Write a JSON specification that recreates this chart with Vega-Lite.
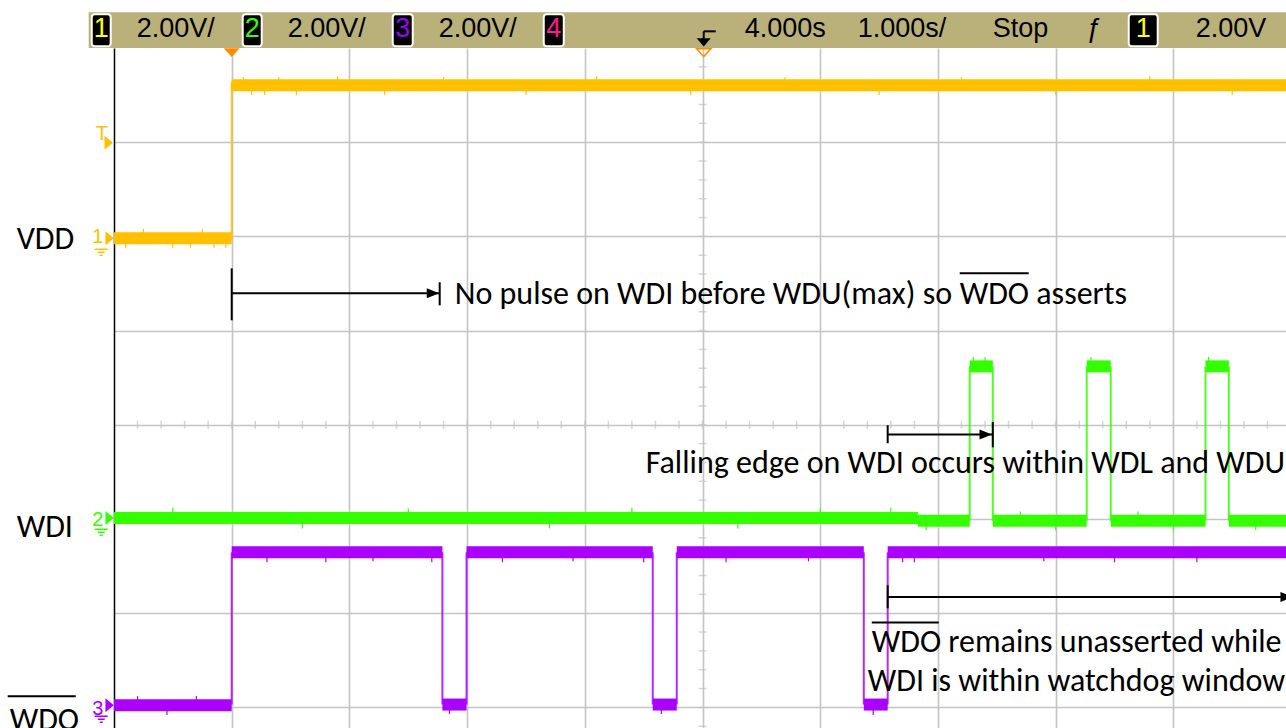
{
  "$schema": "https://vega.github.io/schema/vega-lite/v6.json",
  "width": 1172,
  "height": 680,
  "autosize": {"type": "none"},
  "padding": {"left": 114, "top": 48, "right": 0, "bottom": 0},
  "background": "white",
  "config": {"view": {"stroke": null}},
  "datasets": {
    "header": [{"x1": -1.215, "x2": 9.2, "y1": 4.0, "y2": 4.379}],
    "flat": [
      {"ch": "VDD", "t0": -1, "t1": 0, "v": 1.98},
      {"ch": "VDD", "t0": 0, "t1": 9.2, "v": 3.604},
      {"ch": "WDI", "t0": -1, "t1": 5.83, "v": -0.99},
      {"ch": "WDI", "t0": 5.83, "t1": 6.27, "v": -1.02},
      {"ch": "WDI", "t0": 6.27, "t1": 6.466, "v": 0.62},
      {"ch": "WDI", "t0": 6.466, "t1": 7.264, "v": -1.02},
      {"ch": "WDI", "t0": 7.264, "t1": 7.468, "v": 0.62},
      {"ch": "WDI", "t0": 7.468, "t1": 8.273, "v": -1.02},
      {"ch": "WDI", "t0": 8.273, "t1": 8.471, "v": 0.62},
      {"ch": "WDI", "t0": 8.471, "t1": 9.2, "v": -1.02},
      {"ch": "WDO", "t0": -1, "t1": 0, "v": -2.978},
      {"ch": "WDO", "t0": 0, "t1": 1.79, "v": -1.354},
      {"ch": "WDO", "t0": 1.79, "t1": 1.995, "v": -2.97},
      {"ch": "WDO", "t0": 1.995, "t1": 3.577, "v": -1.354},
      {"ch": "WDO", "t0": 3.577, "t1": 3.781, "v": -2.97},
      {"ch": "WDO", "t0": 3.781, "t1": 5.37, "v": -1.354},
      {"ch": "WDO", "t0": 5.37, "t1": 5.573, "v": -2.97},
      {"ch": "WDO", "t0": 5.573, "t1": 9.2, "v": -1.354}
    ],
    "edges": [
      {"ch": "VDD", "t": 0, "v0": 1.95, "v1": 3.64},
      {"ch": "WDI", "t": 6.27, "v0": -1.02, "v1": 0.62},
      {"ch": "WDI", "t": 6.466, "v0": -1.02, "v1": 0.62},
      {"ch": "WDI", "t": 7.264, "v0": -1.02, "v1": 0.62},
      {"ch": "WDI", "t": 7.468, "v0": -1.02, "v1": 0.62},
      {"ch": "WDI", "t": 8.273, "v0": -1.02, "v1": 0.62},
      {"ch": "WDI", "t": 8.471, "v0": -1.02, "v1": 0.62},
      {"ch": "WDO", "t": 0, "v0": -2.97, "v1": -1.354},
      {"ch": "WDO", "t": 1.79, "v0": -2.97, "v1": -1.354},
      {"ch": "WDO", "t": 1.995, "v0": -2.97, "v1": -1.354},
      {"ch": "WDO", "t": 3.577, "v0": -2.97, "v1": -1.354},
      {"ch": "WDO", "t": 3.781, "v0": -2.97, "v1": -1.354},
      {"ch": "WDO", "t": 5.37, "v0": -2.97, "v1": -1.354},
      {"ch": "WDO", "t": 5.573, "v0": -2.97, "v1": -1.354}
    ],
    "spikes": [
      {"ch": "VDD", "t": 0.1, "v0": 3.6, "v1": 3.69}, {"ch": "VDD", "t": 0.17, "v0": 3.6, "v1": 3.5},
      {"ch": "VDD", "t": 0.28, "v0": 3.6, "v1": 3.5}, {"ch": "VDD", "t": 0.4, "v0": 3.6, "v1": 3.69},
      {"ch": "VDD", "t": 0.55, "v0": 3.6, "v1": 3.5}, {"ch": "VDD", "t": 0.9, "v0": 3.6, "v1": 3.7},
      {"ch": "VDD", "t": 1.3, "v0": 3.6, "v1": 3.5}, {"ch": "VDD", "t": 1.8, "v0": 3.6, "v1": 3.69},
      {"ch": "VDD", "t": 2.5, "v0": 3.6, "v1": 3.5}, {"ch": "VDD", "t": 3.1, "v0": 3.6, "v1": 3.7},
      {"ch": "VDD", "t": 3.9, "v0": 3.6, "v1": 3.5}, {"ch": "VDD", "t": 4.7, "v0": 3.6, "v1": 3.69},
      {"ch": "VDD", "t": 5.5, "v0": 3.6, "v1": 3.5}, {"ch": "VDD", "t": 6.2, "v0": 3.6, "v1": 3.69},
      {"ch": "VDD", "t": 7.0, "v0": 3.6, "v1": 3.5}, {"ch": "VDD", "t": 7.8, "v0": 3.6, "v1": 3.7},
      {"ch": "VDD", "t": 8.5, "v0": 3.6, "v1": 3.5},
      {"ch": "VDD", "t": -0.9, "v0": 1.98, "v1": 1.88}, {"ch": "VDD", "t": -0.75, "v0": 1.98, "v1": 2.08},
      {"ch": "VDD", "t": -0.5, "v0": 1.98, "v1": 1.88}, {"ch": "VDD", "t": -0.35, "v0": 1.98, "v1": 1.88},
      {"ch": "VDD", "t": -0.25, "v0": 1.98, "v1": 2.08}, {"ch": "VDD", "t": -0.15, "v0": 1.98, "v1": 1.88},
      {"ch": "VDD", "t": -0.05, "v0": 1.98, "v1": 1.88},
      {"ch": "WDI", "t": -0.5, "v0": -0.99, "v1": -0.88}, {"ch": "WDI", "t": 0.6, "v0": -0.99, "v1": -1.1},
      {"ch": "WDI", "t": 1.5, "v0": -0.99, "v1": -0.89}, {"ch": "WDI", "t": 2.7, "v0": -0.99, "v1": -1.1},
      {"ch": "WDI", "t": 3.4, "v0": -0.99, "v1": -0.88}, {"ch": "WDI", "t": 4.3, "v0": -0.99, "v1": -1.1},
      {"ch": "WDI", "t": 5.0, "v0": -0.99, "v1": -0.89}, {"ch": "WDI", "t": 5.6, "v0": -0.99, "v1": -0.88},
      {"ch": "WDI", "t": 5.9, "v0": -1.02, "v1": -1.12}, {"ch": "WDI", "t": 6.7, "v0": -1.02, "v1": -0.92},
      {"ch": "WDI", "t": 7.0, "v0": -1.02, "v1": -1.12}, {"ch": "WDI", "t": 7.7, "v0": -1.02, "v1": -0.92},
      {"ch": "WDI", "t": 8.0, "v0": -1.02, "v1": -1.12}, {"ch": "WDI", "t": 8.7, "v0": -1.02, "v1": -1.12},
      {"ch": "WDI", "t": 6.3, "v0": 0.62, "v1": 0.72}, {"ch": "WDI", "t": 6.4, "v0": 0.62, "v1": 0.72},
      {"ch": "WDI", "t": 7.3, "v0": 0.62, "v1": 0.72}, {"ch": "WDI", "t": 8.3, "v0": 0.62, "v1": 0.72},
      {"ch": "WDO", "t": 0.3, "v0": -1.354, "v1": -1.46}, {"ch": "WDO", "t": 0.8, "v0": -1.354, "v1": -1.46},
      {"ch": "WDO", "t": 1.2, "v0": -1.354, "v1": -1.45}, {"ch": "WDO", "t": 1.7, "v0": -1.354, "v1": -1.46},
      {"ch": "WDO", "t": 2.3, "v0": -1.354, "v1": -1.46}, {"ch": "WDO", "t": 2.9, "v0": -1.354, "v1": -1.45},
      {"ch": "WDO", "t": 3.5, "v0": -1.354, "v1": -1.46}, {"ch": "WDO", "t": 4.2, "v0": -1.354, "v1": -1.46},
      {"ch": "WDO", "t": 4.9, "v0": -1.354, "v1": -1.45}, {"ch": "WDO", "t": 5.7, "v0": -1.354, "v1": -1.46},
      {"ch": "WDO", "t": 5.8, "v0": -1.354, "v1": -1.46}, {"ch": "WDO", "t": 6.9, "v0": -1.354, "v1": -1.45},
      {"ch": "WDO", "t": 7.5, "v0": -1.354, "v1": -1.46}, {"ch": "WDO", "t": 8.2, "v0": -1.354, "v1": -1.46},
      {"ch": "WDO", "t": -0.8, "v0": -2.978, "v1": -2.88}, {"ch": "WDO", "t": -0.3, "v0": -2.978, "v1": -2.88},
      {"ch": "WDO", "t": -0.55, "v0": -2.978, "v1": -3.08}, {"ch": "WDO", "t": 1.85, "v0": -2.97, "v1": -3.07},
      {"ch": "WDO", "t": 3.65, "v0": -2.97, "v1": -3.07}, {"ch": "WDO", "t": 5.45, "v0": -2.97, "v1": -3.08}
    ],
    "minorX": [
      {"t": -0.8}, {"t": -0.6}, {"t": -0.4}, {"t": -0.2}, {"t": 0}, {"t": 0.2}, {"t": 0.4}, {"t": 0.6}, {"t": 0.8}, {"t": 1},
      {"t": 1.2}, {"t": 1.4}, {"t": 1.6}, {"t": 1.8}, {"t": 2}, {"t": 2.2}, {"t": 2.4}, {"t": 2.6}, {"t": 2.8}, {"t": 3},
      {"t": 3.2}, {"t": 3.4}, {"t": 3.6}, {"t": 3.8}, {"t": 4}, {"t": 4.2}, {"t": 4.4}, {"t": 4.6}, {"t": 4.8}, {"t": 5},
      {"t": 5.2}, {"t": 5.4}, {"t": 5.6}, {"t": 5.8}, {"t": 6}, {"t": 6.2}, {"t": 6.4}, {"t": 6.6}, {"t": 6.8}, {"t": 7},
      {"t": 7.2}, {"t": 7.4}, {"t": 7.6}, {"t": 7.8}, {"t": 8}, {"t": 8.2}, {"t": 8.4}, {"t": 8.6}, {"t": 8.8}
    ],
    "minorY": [
      {"v": -3.2}, {"v": -3}, {"v": -2.8}, {"v": -2.6}, {"v": -2.4}, {"v": -2.2}, {"v": -2}, {"v": -1.8}, {"v": -1.6}, {"v": -1.4},
      {"v": -1.2}, {"v": -1}, {"v": -0.8}, {"v": -0.6}, {"v": -0.4}, {"v": -0.2}, {"v": 0}, {"v": 0.2}, {"v": 0.4}, {"v": 0.6},
      {"v": 0.8}, {"v": 1}, {"v": 1.2}, {"v": 1.4}, {"v": 1.6}, {"v": 1.8}, {"v": 2}, {"v": 2.2}, {"v": 2.4}, {"v": 2.6},
      {"v": 2.8}, {"v": 3}, {"v": 3.2}, {"v": 3.4}, {"v": 3.6}, {"v": 3.8}
    ],
    "segs": [
      {"x1": 0, "x2": 0, "y1": 1.661, "y2": 1.109},
      {"x1": 0, "x2": 1.767, "y1": 1.396, "y2": 1.396},
      {"x1": 1.767, "x2": 1.767, "y1": 1.513, "y2": 1.268},
      {"x1": 5.573, "x2": 5.573, "y1": -0.005, "y2": -0.196},
      {"x1": 5.573, "x2": 6.466, "y1": -0.104, "y2": -0.104},
      {"x1": 6.466, "x2": 6.466, "y1": 0.03, "y2": -0.239},
      {"x1": 5.573, "x2": 5.573, "y1": -1.704, "y2": -1.948},
      {"x1": 5.573, "x2": 8.96, "y1": -1.828, "y2": -1.828},
      {"x1": 6.185, "x2": 6.771, "y1": 1.608, "y2": 1.608},
      {"x1": 5.438, "x2": 6.007, "y1": -2.1, "y2": -2.1},
      {"x1": -1.903, "x2": -1.325, "y1": -2.882, "y2": -2.882},
      {"x1": 4.01, "x2": 4.112, "y1": 4.177, "y2": 4.177},
      {"x1": 4.01, "x2": 4.01, "y1": 4.177, "y2": 4.085}
    ],
    "grounds": [
      {"ch": "VDD", "x1": -1.164, "x2": -1.054, "y": 1.863},
      {"ch": "VDD", "x1": -1.138, "x2": -1.079, "y": 1.831},
      {"ch": "VDD", "x1": -1.121, "x2": -1.096, "y": 1.799},
      {"ch": "WDI", "x1": -1.164, "x2": -1.054, "y": -1.109},
      {"ch": "WDI", "x1": -1.138, "x2": -1.079, "y": -1.141},
      {"ch": "WDI", "x1": -1.121, "x2": -1.096, "y": -1.173},
      {"ch": "WDO", "x1": -1.164, "x2": -1.054, "y": -3.094},
      {"ch": "WDO", "x1": -1.138, "x2": -1.079, "y": -3.126},
      {"ch": "WDO", "x1": -1.121, "x2": -1.096, "y": -3.158}
    ],
    "heads": [
      {"t": 1.71, "v": 1.396},
      {"t": 6.406, "v": -0.104},
      {"t": 8.963, "v": -1.828}
    ],
    "downIcon": [{"t": 4.01, "v": 4.06}],
    "trigFilled": [{"t": 0, "v": 3.95}],
    "trigHollow": [{"t": 4.01, "v": 3.95}],
    "chmarks": [
      {"ch": "VDD", "t": -1.045, "v": 2.994},
      {"ch": "VDD", "t": -1.037, "v": 1.98},
      {"ch": "WDI", "t": -1.037, "v": -0.99},
      {"ch": "WDO", "t": -1.037, "v": -2.978}
    ],
    "chnums": [
      {"ch": "VDD", "t": -1.185, "v": 1.927, "text": "1"},
      {"ch": "WDI", "t": -1.185, "v": -1.077, "text": "2"},
      {"ch": "WDO", "t": -1.185, "v": -3.084, "text": "3"},
      {"ch": "VDD", "t": -1.155, "v": 3.02, "text": "T"}
    ],
    "ann": [
      {"t": 1.895, "v": 1.279, "text": "No pulse on WDI before WDU(max) so"},
      {"t": 6.185, "v": 1.279, "text": "WDO asserts"},
      {"t": 3.517, "v": -0.515, "text": "Falling edge on WDI occurs within WDL and WDU"},
      {"t": 5.438, "v": -2.415, "text": "WDO remains unasserted while"},
      {"t": 5.404, "v": -2.83, "text": "WDI is within watchdog window"},
      {"t": -1.827, "v": 1.863, "text": "VDD"},
      {"t": -1.827, "v": -1.194, "text": "WDI"},
      {"t": -1.886, "v": -3.243, "text": "WDO"}
    ],
    "hdr": [
      {"t": -0.807, "v": 4.114, "text": "2.00V/"},
      {"t": 0.476, "v": 4.114, "text": "2.00V/"},
      {"t": 1.759, "v": 4.114, "text": "2.00V/"},
      {"t": 4.359, "v": 4.114, "text": "4.000s"},
      {"t": 5.319, "v": 4.114, "text": "1.000s/"},
      {"t": 6.466, "v": 4.114, "text": "Stop"},
      {"t": 7.264, "v": 4.114, "text": "ƒ"},
      {"t": 8.19, "v": 4.114, "text": "2.00V"}
    ],
    "boxes": [
      {"x1": -1.189, "x2": -1.028, "y1": 4.018, "y2": 4.358, "tc": -1.109, "v": 4.114, "num": "1"},
      {"x1": 0.0935, "x2": 0.255, "y1": 4.018, "y2": 4.358, "tc": 0.174, "v": 4.114, "num": "2"},
      {"x1": 1.368, "x2": 1.538, "y1": 4.018, "y2": 4.358, "tc": 1.453, "v": 4.114, "num": "3"},
      {"x1": 2.651, "x2": 2.821, "y1": 4.018, "y2": 4.358, "tc": 2.736, "v": 4.114, "num": "4"},
      {"x1": 7.621, "x2": 7.867, "y1": 4.018, "y2": 4.358, "tc": 7.744, "v": 4.114, "num": "1"}
    ]
  },
  "resolve": {"scale": {"color": "independent"}},
  "layer": [
    {
      "data": {"name": "header"},
      "mark": {"type": "rect", "color": "#BAB07A"},
      "encoding": {
        "x": {"field": "x1", "type": "quantitative", "scale": {"domain": [-1, 8.957], "nice": false, "zero": false},
          "axis": {"values": [0, 1, 2, 3, 4, 5, 6, 7, 8], "grid": true, "gridColor": "#c4c4c4", "gridWidth": 1.6, "domain": false, "ticks": false, "labels": false, "title": null}},
        "x2": {"field": "x2"},
        "y": {"field": "y1", "type": "quantitative", "scale": {"domain": [-3.219, 4], "nice": false, "zero": false},
          "axis": {"values": [-3, -2, -1, 0, 1, 2, 3], "grid": true, "gridColor": "#c4c4c4", "gridWidth": 1.6, "domain": true, "domainColor": "#000000", "domainWidth": 1.5, "ticks": false, "labels": false, "title": null}},
        "y2": {"field": "y2"}
      }
    },
    {
      "data": {"name": "minorX"},
      "mark": {"type": "tick", "orient": "vertical", "size": 8, "thickness": 1.5, "color": "#c4c4c4"},
      "encoding": {
        "x": {"field": "t", "type": "quantitative", "scale": {"domain": [-1, 8.957], "nice": false, "zero": false}},
        "y": {"datum": 0, "type": "quantitative", "scale": {"domain": [-3.219, 4], "nice": false, "zero": false}}
      }
    },
    {
      "data": {"name": "minorY"},
      "mark": {"type": "tick", "orient": "horizontal", "size": 8, "thickness": 1.5, "color": "#c4c4c4"},
      "encoding": {
        "x": {"datum": 4, "type": "quantitative", "scale": {"domain": [-1, 8.957], "nice": false, "zero": false}},
        "y": {"field": "v", "type": "quantitative", "scale": {"domain": [-3.219, 4], "nice": false, "zero": false}}
      }
    },
    {
      "data": {"name": "edges"},
      "mark": {"type": "rule", "strokeWidth": 2, "opacity": 0.85, "clip": true},
      "encoding": {
        "x": {"field": "t", "type": "quantitative", "scale": {"domain": [-1, 8.957], "nice": false, "zero": false}},
        "y": {"field": "v0", "type": "quantitative", "scale": {"domain": [-3.219, 4], "nice": false, "zero": false}},
        "y2": {"field": "v1"},
        "color": {"field": "ch", "type": "nominal", "scale": {"domain": ["VDD", "WDI", "WDO"], "range": ["#FFC000", "#33FF00", "#AA00FF"]}, "legend": null}
      }
    },
    {
      "data": {"name": "spikes"},
      "mark": {"type": "rule", "strokeWidth": 1.2, "clip": true},
      "encoding": {
        "x": {"field": "t", "type": "quantitative", "scale": {"domain": [-1, 8.957], "nice": false, "zero": false}},
        "y": {"field": "v0", "type": "quantitative", "scale": {"domain": [-3.219, 4], "nice": false, "zero": false}},
        "y2": {"field": "v1"},
        "color": {"field": "ch", "type": "nominal", "scale": {"domain": ["VDD", "WDI", "WDO"], "range": ["#FFC000", "#33FF00", "#AA00FF"]}, "legend": null}
      }
    },
    {
      "data": {"name": "flat"},
      "mark": {"type": "rule", "strokeWidth": 12, "strokeCap": "butt", "clip": true},
      "encoding": {
        "x": {"field": "t0", "type": "quantitative", "scale": {"domain": [-1, 8.957], "nice": false, "zero": false}},
        "x2": {"field": "t1"},
        "y": {"field": "v", "type": "quantitative", "scale": {"domain": [-3.219, 4], "nice": false, "zero": false}},
        "color": {"field": "ch", "type": "nominal", "scale": {"domain": ["VDD", "WDI", "WDO"], "range": ["#FFC000", "#33FF00", "#AA00FF"]}, "legend": null}
      }
    },
    {
      "data": {"name": "segs"},
      "mark": {"type": "rule", "strokeWidth": 2, "color": "#000000"},
      "encoding": {
        "x": {"field": "x1", "type": "quantitative", "scale": {"domain": [-1, 8.957], "nice": false, "zero": false}},
        "x2": {"field": "x2"},
        "y": {"field": "y1", "type": "quantitative", "scale": {"domain": [-3.219, 4], "nice": false, "zero": false}},
        "y2": {"field": "y2"}
      }
    },
    {
      "data": {"name": "grounds"},
      "mark": {"type": "rule", "strokeWidth": 1.5},
      "encoding": {
        "x": {"field": "x1", "type": "quantitative", "scale": {"domain": [-1, 8.957], "nice": false, "zero": false}},
        "x2": {"field": "x2"},
        "y": {"field": "y", "type": "quantitative", "scale": {"domain": [-3.219, 4], "nice": false, "zero": false}},
        "color": {"field": "ch", "type": "nominal", "scale": {"domain": ["VDD", "WDI", "WDO"], "range": ["#FFC000", "#33FF00", "#AA00FF"]}, "legend": null}
      }
    },
    {
      "data": {"name": "heads"},
      "mark": {"type": "point", "shape": "M-1,-0.8L1,0L-1,0.8Z", "size": 156, "filled": true, "color": "#000000", "opacity": 1},
      "encoding": {
        "x": {"field": "t", "type": "quantitative", "scale": {"domain": [-1, 8.957], "nice": false, "zero": false}},
        "y": {"field": "v", "type": "quantitative", "scale": {"domain": [-3.219, 4], "nice": false, "zero": false}}
      }
    },
    {
      "data": {"name": "downIcon"},
      "mark": {"type": "point", "shape": "M-1,-0.6L1,-0.6L0,0.6Z", "size": 196, "filled": true, "color": "#000000", "opacity": 1},
      "encoding": {
        "x": {"field": "t", "type": "quantitative", "scale": {"domain": [-1, 8.957], "nice": false, "zero": false}},
        "y": {"field": "v", "type": "quantitative", "scale": {"domain": [-3.219, 4], "nice": false, "zero": false}}
      }
    },
    {
      "data": {"name": "trigFilled"},
      "mark": {"type": "point", "shape": "M-1,-0.55L1,-0.55L0,0.55Z", "size": 256, "filled": true, "color": "#FF8C00", "opacity": 1},
      "encoding": {
        "x": {"field": "t", "type": "quantitative", "scale": {"domain": [-1, 8.957], "nice": false, "zero": false}},
        "y": {"field": "v", "type": "quantitative", "scale": {"domain": [-3.219, 4], "nice": false, "zero": false}}
      }
    },
    {
      "data": {"name": "trigHollow"},
      "mark": {"type": "point", "shape": "M-1,-0.55L1,-0.55L0,0.55Z", "size": 196, "filled": false, "stroke": "#FF8C00", "strokeWidth": 1.5, "opacity": 1},
      "encoding": {
        "x": {"field": "t", "type": "quantitative", "scale": {"domain": [-1, 8.957], "nice": false, "zero": false}},
        "y": {"field": "v", "type": "quantitative", "scale": {"domain": [-3.219, 4], "nice": false, "zero": false}}
      }
    },
    {
      "data": {"name": "chmarks"},
      "mark": {"type": "point", "shape": "M-0.6,-1L0.6,0L-0.6,1Z", "size": 196, "filled": true, "opacity": 1},
      "encoding": {
        "x": {"field": "t", "type": "quantitative", "scale": {"domain": [-1, 8.957], "nice": false, "zero": false}},
        "y": {"field": "v", "type": "quantitative", "scale": {"domain": [-3.219, 4], "nice": false, "zero": false}},
        "color": {"field": "ch", "type": "nominal", "scale": {"domain": ["VDD", "WDI", "WDO"], "range": ["#FFC000", "#33FF00", "#AA00FF"]}, "legend": null}
      }
    },
    {
      "data": {"name": "chnums"},
      "mark": {"type": "text", "font": "Liberation Sans", "fontSize": 20, "align": "left", "baseline": "alphabetic"},
      "encoding": {
        "x": {"field": "t", "type": "quantitative", "scale": {"domain": [-1, 8.957], "nice": false, "zero": false}},
        "y": {"field": "v", "type": "quantitative", "scale": {"domain": [-3.219, 4], "nice": false, "zero": false}},
        "text": {"field": "text"},
        "color": {"field": "ch", "type": "nominal", "scale": {"domain": ["VDD", "WDI", "WDO"], "range": ["#FFC000", "#33FF00", "#AA00FF"]}, "legend": null}
      }
    },
    {
      "data": {"name": "ann"},
      "mark": {"type": "text", "font": "Carlito, Lato", "fontSize": 32, "align": "left", "baseline": "alphabetic", "color": "#000000"},
      "encoding": {
        "x": {"field": "t", "type": "quantitative", "scale": {"domain": [-1, 8.957], "nice": false, "zero": false}},
        "y": {"field": "v", "type": "quantitative", "scale": {"domain": [-3.219, 4], "nice": false, "zero": false}},
        "text": {"field": "text"}
      }
    },
    {
      "data": {"name": "hdr"},
      "mark": {"type": "text", "font": "Liberation Sans", "fontSize": 27, "align": "left", "baseline": "alphabetic", "color": "#000000"},
      "encoding": {
        "x": {"field": "t", "type": "quantitative", "scale": {"domain": [-1, 8.957], "nice": false, "zero": false}},
        "y": {"field": "v", "type": "quantitative", "scale": {"domain": [-3.219, 4], "nice": false, "zero": false}},
        "text": {"field": "text"}
      }
    },
    {
      "data": {"name": "boxes"},
      "mark": {"type": "rect", "fill": "#000000", "stroke": "#FFFFFF", "strokeWidth": 2, "cornerRadius": 3},
      "encoding": {
        "x": {"field": "x1", "type": "quantitative", "scale": {"domain": [-1, 8.957], "nice": false, "zero": false}},
        "x2": {"field": "x2"},
        "y": {"field": "y1", "type": "quantitative", "scale": {"domain": [-3.219, 4], "nice": false, "zero": false}},
        "y2": {"field": "y2"}
      }
    },
    {
      "data": {"name": "boxes"},
      "mark": {"type": "text", "font": "Liberation Sans", "fontSize": 27, "align": "center", "baseline": "alphabetic"},
      "encoding": {
        "x": {"field": "tc", "type": "quantitative", "scale": {"domain": [-1, 8.957], "nice": false, "zero": false}},
        "y": {"field": "v", "type": "quantitative", "scale": {"domain": [-3.219, 4], "nice": false, "zero": false}},
        "text": {"field": "num"},
        "color": {"field": "num", "type": "nominal", "scale": {"domain": ["1", "2", "3", "4"], "range": ["#FFFF00", "#33FF00", "#9900FF", "#FF1A8C"]}, "legend": null}
      }
    }
  ]
}
